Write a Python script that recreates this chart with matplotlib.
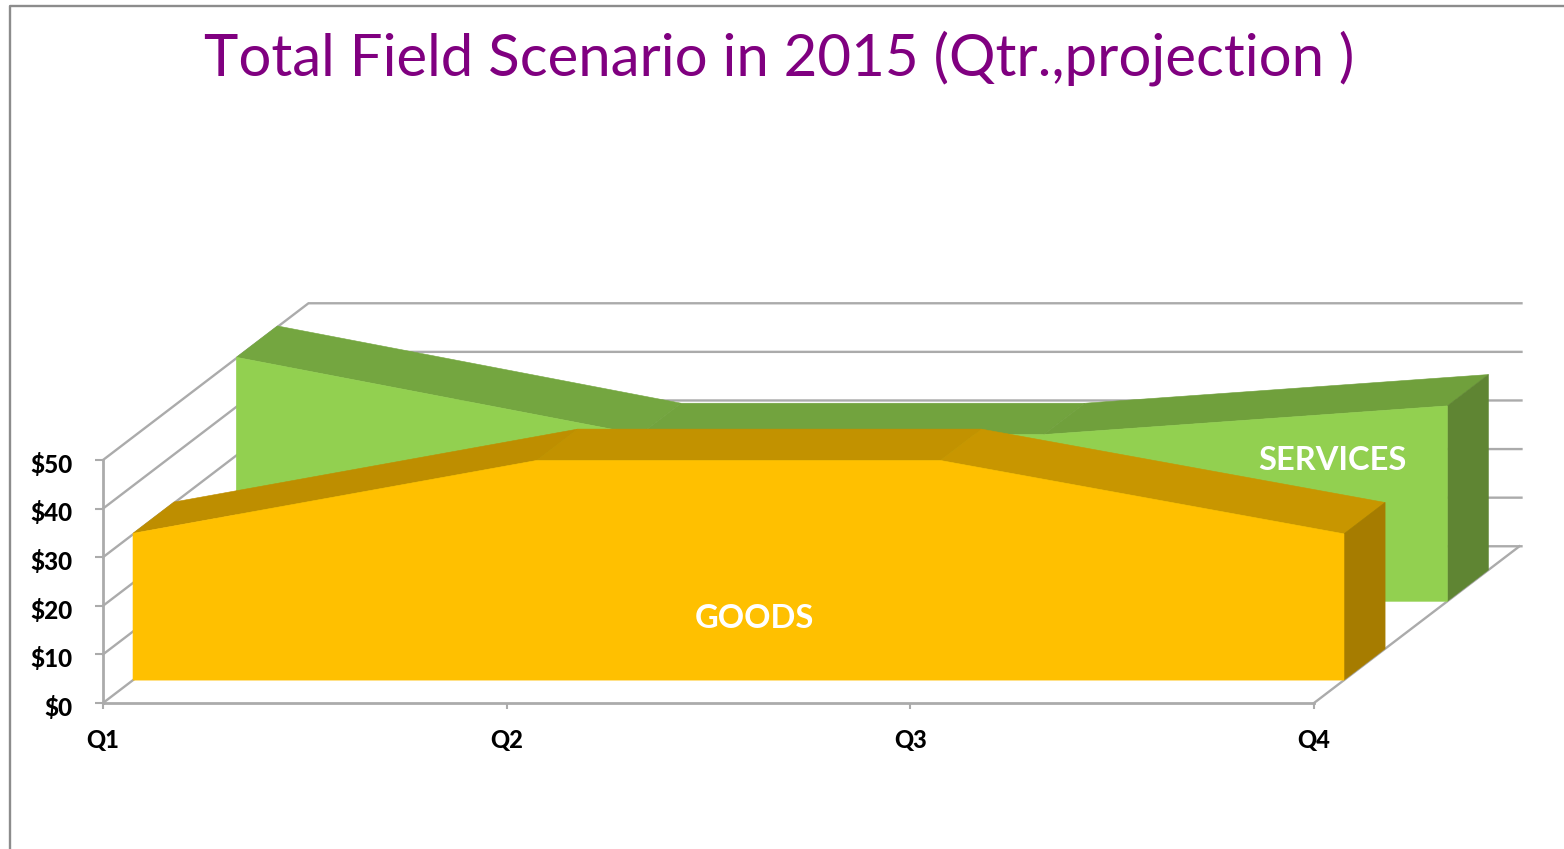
import matplotlib
matplotlib.use("Agg")
import matplotlib.pyplot as plt
from matplotlib.lines import Line2D
from matplotlib.patches import Polygon
from matplotlib.transforms import ScaledTranslation

plt.rcParams['font.family'] = ['Lato', 'DejaVu Sans']

# values
quarters = ['Q1', 'Q2', 'Q3', 'Q4']
goods = [30.2, 45.2, 45.2, 30.1]
services = [50.2, 34.3, 34.3, 40.2]
y_ticks = [0, 10, 20, 30, 40, 50]
y_labels = ['$0', '$10', '$20', '$30', '$40', '$50']

W, H = 1564, 849
GRID = '#ABABAB'

# the oblique depth axis, in data units per unit of depth
DEPTH_X = 0.509
DEPTH_Y = 32.25


def project(q, v, d):
    return (q + DEPTH_X * d, v + DEPTH_Y * d)


def draw_area(ax, values, d0, d1, front, tops, side, z):
    n = len(values)
    # top face, one strip for each quarter to quarter segment
    for i in range(n - 1):
        pts = [project(i, values[i], d0), project(i + 1, values[i + 1], d0),
               project(i + 1, values[i + 1], d1), project(i, values[i], d1)]
        ax.add_patch(Polygon(pts, fc=tops[i], ec=tops[i], lw=0.4, clip_on=False, zorder=z))
    # right end
    last = n - 1
    pts = [project(last, 0, d0), project(last, values[last], d0),
           project(last, values[last], d1), project(last, 0, d1)]
    ax.add_patch(Polygon(pts, fc=side, ec=side, lw=0.4, clip_on=False, zorder=z))
    # front face
    pts = [project(0, 0, d0)] + [project(i, values[i], d0) for i in range(n)] + [project(last, 0, d0)]
    ax.add_patch(Polygon(pts, fc=front, ec=front, lw=0.4, clip_on=False, zorder=z + 0.5))


fig = plt.figure(figsize=(W / 100, H / 100), dpi=100, facecolor='white')
ax = fig.add_axes([103 / W, (H - 703) / H, 1211 / W, 243 / H])
ax.set_xlim(0, 3)
ax.set_ylim(0, 50)
ax.patch.set_visible(False)

ax.set_xticks(range(len(quarters)), quarters, fontsize=17, fontweight=900)
ax.set_yticks(y_ticks, y_labels, fontsize=17.5, fontweight=900)
ax.tick_params(axis='x', length=4, width=1.5, color=GRID, pad=15)
ax.tick_params(axis='y', length=6, width=1.5, color=GRID, pad=16)
for lab in ax.get_yticklabels():
    lab.set_transform(lab.get_transform() + ScaledTranslation(0, -2 / 72, fig.dpi_scale_trans))
for s in ['top', 'right']:
    ax.spines[s].set_visible(False)
for s in ['left', 'bottom']:
    ax.spines[s].set_color(GRID)
    ax.spines[s].set_linewidth(2)
    ax.spines[s].set_zorder(1)

# walls
last_q = len(quarters) - 1
for v in y_ticks:
    x0, y0 = project(0, v, 0)
    x1, y1 = project(0, v, 1)
    x2, y2 = project(last_q + 0.005, v, 1)
    ax.plot([x0, x1, x2], [y0, y1, y2], color=GRID, lw=1.7, clip_on=False, zorder=1, solid_joinstyle='miter')
x0, y0 = project(last_q, 0, 0)
x1, y1 = project(last_q, 0, 1)
ax.plot([x0, x1], [y0, y1], color=GRID, lw=1.7, clip_on=False, zorder=1)

draw_area(ax, services, 0.649, 0.849, '#92D050', ['#74A640', '#72A33E', '#70A03C'], '#5F8533', 3)
draw_area(ax, goods, 0.146, 0.346, '#FFC000', ['#BE8E00', '#C29200', '#C89600'], '#A67C00', 5)

fig.text(779 / W, 1 - 58 / H, 'Total Field Scenario in 2015 (Qtr.,projection )', color='#800080',
         fontsize=41.9, ha='center', va='center')
fig.text(754 / W, 1 - 618 / H, 'GOODS', color='white', fontsize=23.5, fontweight='bold',
         ha='center', va='center', zorder=10)
fig.text(1332 / W, 1 - 461 / H, 'SERVICES', color='white', fontsize=23.5, fontweight='bold',
         ha='center', va='center', zorder=10)

# slide frame
fig.add_artist(Line2D([10 / W, 10 / W, 1], [0, 1 - 6 / H, 1 - 6 / H], color='#8C8C8C', lw=1.7))

fig.savefig('out.png', dpi=100)
